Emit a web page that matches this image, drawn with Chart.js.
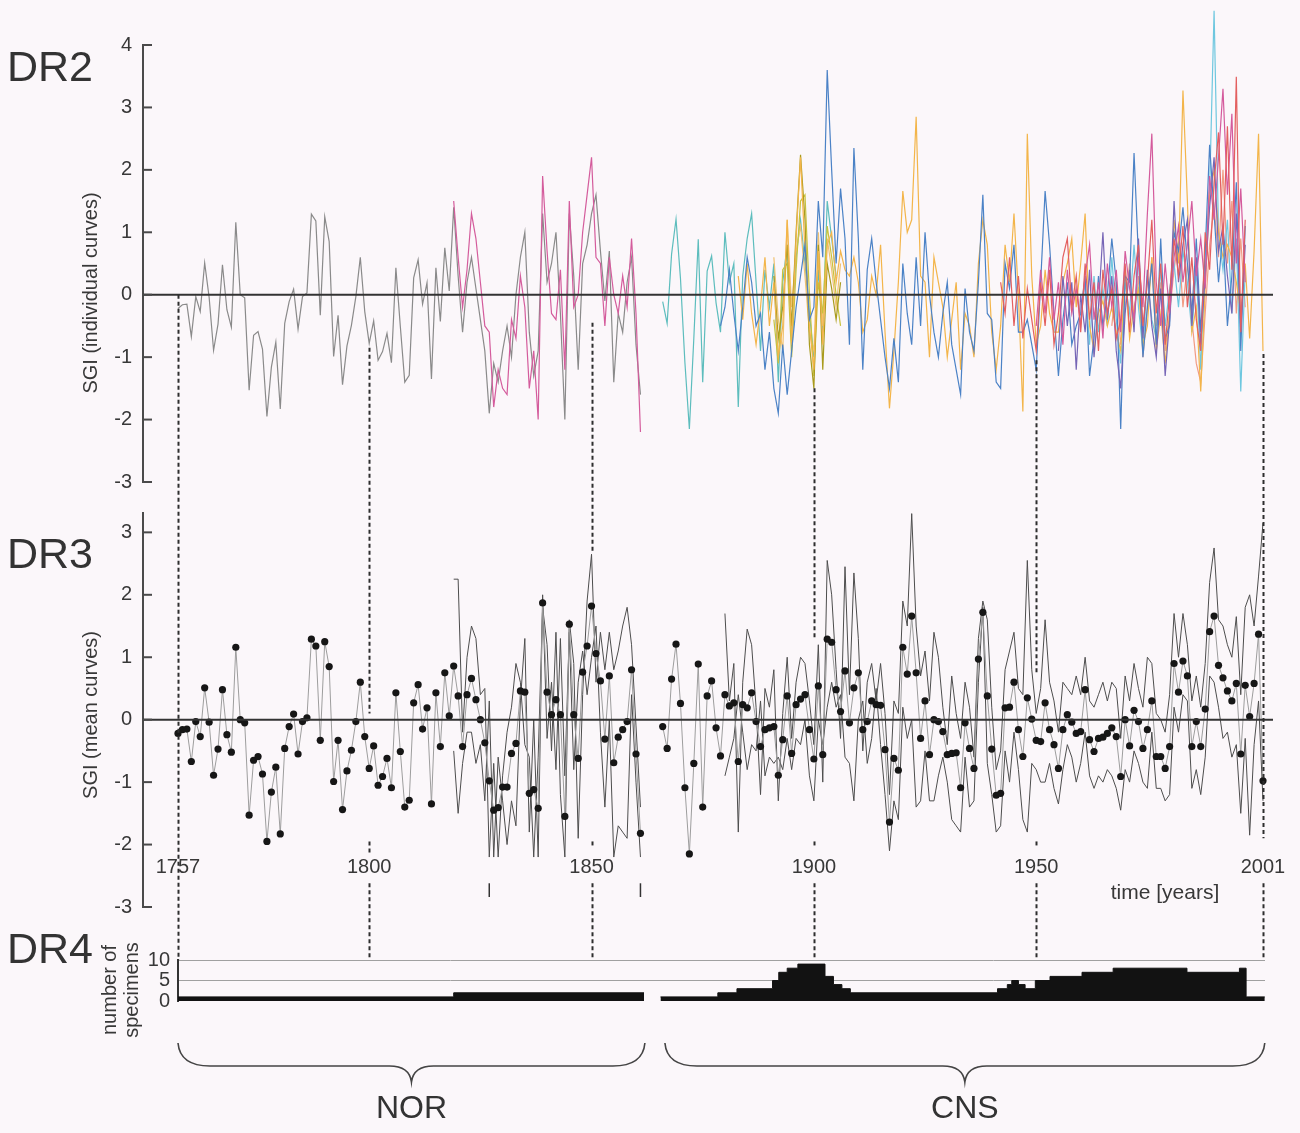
<!DOCTYPE html>
<html>
<head>
<meta charset="utf-8">
<title>DR2 / DR3 / DR4 – SGI curves</title>
<script src="https://cdn.jsdelivr.net/npm/chart.js@4.4.1/dist/chart.umd.min.js"></script>
<style>
html,body{margin:0;padding:0;background:#fbf7fa;}
#wrap{position:relative;width:1300px;height:1133px;overflow:hidden;background:#fbf7fa;}
#wrap canvas{position:absolute;left:0;}
</style>
</head>
<body>
<div id="wrap">
<canvas id="c2" width="1300" height="505" style="top:0px;width:1300px;height:505px"></canvas>
<canvas id="c3" width="1300" height="440" style="top:490px;width:1300px;height:440px"></canvas>
<canvas id="c4" width="1300" height="208" style="top:925px;width:1300px;height:208px"></canvas>
<canvas id="ov" width="1300" height="1133" style="top:0px;width:1300px;height:1133px"></canvas>
</div>
<script>
// ---------------- DATA ----------------
const dr2Ticks = [-3,-2,-1,0,1,2,3,4];
const dr3Ticks = [-3,-2,-1,0,1,2,3];
const dr4Ticks = [0,5,10];
const yearTicks = [1757,1800,1850,1900,1950,2001];

// DR2 individual curves (annual values, start year given)
const nor1Start = 1757;
const nor1 = [
-0.22,-0.16,-0.15,-0.67,-0.03,-0.27,0.51,-0.04,-0.89,-0.47,
0.48,-0.24,-0.52,1.16,0.0,-0.05,-1.53,-0.65,-0.59,-0.87,
-1.95,-1.16,-0.76,-1.83,-0.46,-0.11,0.09,-0.55,-0.03,0.03,
1.29,1.18,-0.33,1.25,0.85,-0.99,-0.33,-1.44,-0.82,-0.49,
-0.03,0.6,-0.27,-0.78,-0.42,-1.05,-0.91,-0.62,-1.09,0.43,
-0.51,-1.4,-1.29,0.27,0.56,-0.15,0.19,-1.35,0.43,-0.43,
0.75,0.06,
1.4,0.3,-0.6,0.2,0.6,0.1,-0.4,-0.9,-1.9,-1.1,
-1.4,-0.9,-0.5,-1.0,0.0,0.6,1.0,-0.6,-1.3,-0.9,
1.3,0.2,0.5,1.0,-0.3,-2.0,1.3,0.3,-1.2,0.5,
0.8,1.3,1.6,0.7,-0.1,0.7,-1.4,-0.3,-0.6,0.2,
0.6,-0.8,-1.6];
const nor2Start = 1819;
const nor2 = [
1.5,0.6,-0.2,0.4,1.3,0.9,0.2,-0.5,-0.6,-1.8,
-1.2,-1.5,-1.6,-0.4,-0.7,0.3,-0.2,-1.5,-0.9,-2.0,
1.9,0.7,-0.3,-0.4,0.4,-1.2,1.5,-0.2,0.0,1.0,
1.6,2.2,0.6,0.5,-0.5,0.6,0.0,-0.3,0.3,-0.2,
0.9,-0.3,-2.2];
const cnsTealStart = 1866;
const cnsTeal = [
-0.11,-0.46,0.65,1.21,0.26,-1.09,-2.15,-0.7,0.89,-1.4,
0.38,0.62,-0.13,-0.6,1.0,0.2,0.5,-1.8,0.3,0.9,
1.3,0.2,-0.9,0.4,-0.2,0.5,-1.4,0.2,0.8,-0.6,
0.6,1.2,0.5,-0.3,-1.0,0.4,-0.6,1.5,0.9,0.3];
const cnsBlueStart = 1879;
const cnsBlue = [
-0.5,-0.2,0.4,-0.3,-0.9,-0.2,0.6,0.2,-0.5,-0.3,
-1.2,-0.6,-1.5,-1.9,-0.8,-1.6,-0.9,-0.2,0.3,0.8,
-0.4,-0.2,1.5,0.6,3.6,2.0,0.5,1.7,0.9,-0.8,
2.35,0.9,-1.2,0.4,0.9,0.2,-0.4,-1.0,-1.5,-0.7,
-1.4,0.5,-0.3,-0.8,0.6,-0.5,1.0,0.0,-0.6,-1.0,
-0.3,0.2,-0.8,-1.2,-1.6,0.1,-0.6,-0.9,0.2,1.6,
-0.3,-0.4,-1.4,-1.5,0.5,0.1,0.8,-0.6,-0.6,-0.4,
-0.8,-1.2,0.2,1.66,0.8,-0.3,-1.3,-0.4,0.2,-0.8,
-0.5,-0.3,0.3,-1.3,-0.7,0.3,-0.5,0.0,0.9,0.2,
-2.15,0.3,0.2,2.27,0.6,-1.0,-0.2,0.5,-0.8,0.9,
-0.7,-0.5,1.0,0.7,1.4,0.5,-0.3,0.9,-0.6,0.7,
2.4,1.3,0.2,1.0,-0.5,0.3,1.8,-0.9,1.1];
const cnsOrangeStart = 1883;
const cnsOrange = [
0.3,-0.4,0.5,-0.3,-0.8,-0.2,0.6,-0.5,0.2,-1.0,
-0.5,1.2,-0.8,0.9,2.2,0.7,-0.5,-1.2,0.7,-0.8,
0.8,1.0,0.2,0.7,0.4,0.3,0.6,0.2,-0.6,-0.4,
0.3,0.0,0.8,-0.6,-1.82,-0.9,0.2,1.66,1.0,1.2,
2.85,0.3,0.2,-1.0,0.6,0.2,-0.2,-1.0,-0.4,0.2,
-1.2,-0.3,-0.5,-1.0,0.5,1.2,0.8,-0.6,-1.2,-0.5,
0.8,0.2,1.3,0.0,-1.87,2.58,0.3,-0.8,-0.5,0.4,
-0.3,-0.6,-0.6,0.2,0.5,0.9,-0.2,0.5,1.3,-0.5,
-0.9,-0.3,-0.1,-0.5,-0.2,-0.6,-0.9,0.4,-0.7,-0.2,
0.1,-0.8,-0.5,0.6,-0.9,-0.3,-1.1,-0.3,1.2,0.5,
3.27,1.5,-0.6,-0.2,-1.55,0.1,1.6,2.0,1.0,0.6,
0.8,0.6,0.2,-0.3,0.5,-0.7,0.7,2.58,-0.9];
const cnsOliveStart = 1891;
const cnsOlive = [0.3,-0.7,-0.2,0.8,-0.5,1.0,2.24,1.2,-0.8,-1.5,0.8,-1.2,0.5,0.1,-0.4,0.2];
const cnsYellowStart = 1891;
const cnsYellow = [-0.4,-1.1,0.4,0.5,-1.0,0.4,1.5,1.6,0.0,-1.3,0.2,-0.3,1.1,0.6,0.0,-0.5];
const cnsLightOrangeStart = 1891;
const cnsLightOrange = [0.6,-0.4,-0.9,1.2,-0.2,0.7,1.1,0.3,-0.6,-0.9,1.0,-0.5,0.9,0.4,-0.2,0.5];
const cnsRedStart = 1942;
const cnsRed = [
0.2,-0.3,0.6,-0.5,0.3,-0.7,0.1,-0.4,-0.9,0.2,
-0.5,0.4,-0.8,-0.3,0.6,0.9,-0.2,0.3,-0.6,0.5,
-0.4,0.2,-0.9,0.4,-0.3,0.1,-0.7,-0.4,0.5,-0.6,
0.3,0.8,-0.5,0.2,1.2,-0.3,0.5,-0.8,0.0,0.9,
0.3,1.1,-0.2,0.6,-0.4,-0.9,1.0,0.4,1.8,2.6,
0.8,2.7,0.4,3.49,-0.6,1.2];
const cnsMagentaStart = 1950;
const cnsMagenta = [
-0.5,0.4,-0.3,0.6,-0.4,0.2,-0.8,0.4,-0.3,0.1,
-0.5,0.3,0.8,-0.4,0.2,-0.7,0.5,-0.2,0.4,-0.6,
0.7,0.1,-0.4,0.6,-0.2,1.3,2.58,0.2,-0.5,0.5,
-0.3,0.6,1.1,0.2,0.8,1.5,0.3,0.9,0.1,1.9,
1.2,2.2,3.3,1.6,2.9,0.5,1.7,0.2];
const cnsPurpleStart = 1955;
const cnsPurple = [
-0.9,0.3,-0.5,0.2,-1.2,0.0,-0.6,0.4,-1.0,-0.2,
1.0,-0.4,0.3,-0.9,-1.5,-0.3,0.4,-0.6,0.9,-0.7,
0.4,-0.5,-1.0,0.1,-1.3,-0.4,1.5,0.2,0.8,1.2,
-0.5,0.6,-0.8,0.3,1.4,2.2,0.7,1.1,0.3,-0.3,
1.3,-0.6,0.8];
const cnsCyanStart = 1960;
const cnsCyan = [
-0.4,0.2,-0.8,0.3,-0.6,0.1,-0.5,0.6,-0.4,-1.1,
0.2,-0.3,0.8,-0.2,-0.9,0.3,-0.4,-0.7,0.4,-0.5,
0.1,0.5,-0.2,0.7,0.2,-0.6,0.4,-1.2,0.6,1.7,
4.55,1.0,0.4,1.2,-0.3,0.9,-1.55,0.4];
const cnsSalmonStart = 1967;
const cnsSalmon = [
-0.5,0.2,-0.8,-0.2,0.5,-0.4,0.3,-1.0,-0.2,0.6,
-0.5,0.2,-0.9,-0.3,0.4,0.9,-0.2,0.5,-0.4,-1.1,
-1.4,-0.3,0.8,1.4,0.6,2.0,0.5,1.5,-0.3,0.9,
-0.2];

// DR3 mean curve (dots), 1757-2001, gap 1862-1865
const meanStart = 1757;
const meanSGI = [
-0.22,-0.16,-0.15,-0.67,-0.03,-0.27,0.51,-0.04,-0.89,-0.47,
0.48,-0.24,-0.52,1.16,0.0,-0.05,-1.53,-0.65,-0.59,-0.87,
-1.95,-1.16,-0.76,-1.83,-0.46,-0.11,0.09,-0.55,-0.03,0.03,
1.29,1.18,-0.33,1.25,0.85,-0.99,-0.33,-1.44,-0.82,-0.49,
-0.03,0.6,-0.27,-0.78,-0.42,-1.05,-0.91,-0.62,-1.09,0.43,
-0.51,-1.4,-1.29,0.27,0.56,-0.15,0.19,-1.35,0.43,-0.43,
0.75,0.06,
0.86,0.38,-0.43,0.4,0.66,0.32,0.0,-0.37,-0.98,-1.45,
-1.41,-1.08,-1.08,-0.54,-0.38,0.46,0.44,-1.18,-1.12,-1.42,
1.87,0.44,0.08,0.32,0.08,-1.55,1.53,0.08,-0.62,0.76,
1.18,1.82,1.06,0.62,-0.31,0.7,-0.69,-0.28,-0.16,-0.03,
0.8,-0.55,-1.82,
null,null,null,null,
-0.11,-0.46,0.65,1.21,0.26,-1.09,-2.15,-0.7,0.89,-1.4,
0.38,0.62,-0.13,-0.58,0.4,0.22,0.27,-0.67,0.24,0.19,
0.43,-0.03,-0.43,-0.16,-0.13,-0.11,-0.89,-0.32,0.38,-0.54,
0.24,0.33,0.4,-0.16,-0.63,0.54,-0.56,1.29,1.24,0.48,
0.13,0.78,-0.05,0.51,
0.75,-0.16,-0.03,0.3,0.24,0.23,-0.48,-1.64,-0.62,-0.81,
1.16,0.73,1.66,0.75,-0.3,0.3,-0.56,0.0,-0.03,-0.19,
-0.56,-0.54,-0.53,-1.09,-0.05,-0.46,-0.78,0.97,1.72,0.38,
-0.47,-1.21,-1.18,0.19,0.2,0.6,-0.16,-0.59,0.35,0.01,
-0.33,-0.35,0.27,-0.16,-0.4,-0.78,-0.16,0.08,-0.04,-0.22,
-0.19,0.48,-0.32,-0.51,-0.3,-0.28,-0.22,-0.13,-0.27,-0.91,
0.0,-0.42,0.15,-0.03,-0.46,-0.16,0.3,-0.59,-0.59,-0.78,
-0.43,0.9,0.44,0.94,0.7,-0.43,-0.03,-0.43,0.17,1.41,
1.66,0.87,0.67,0.46,0.3,0.58,-0.55,0.55,0.05,0.58,
1.37,-0.98];

// DR3 two thin mean curves, 1819-2001
const thinStart = 1819;
const thinUpper = [
2.25,2.25,-0.2,1.0,1.5,1.3,0.4,0.5,-2.2,-0.7,
-2.2,-0.9,-0.2,0.2,0.9,0.6,-0.4,-0.6,-2.2,-0.6,
1.8,1.2,-0.5,1.4,-1.2,-2.2,1.6,0.9,-1.9,0.4,
1.9,2.65,0.6,1.4,0.8,1.4,0.8,1.1,1.5,1.8,
1.2,-0.1,-1.4,
null,null,null,null,null,null,null,null,null,null,null,null,null,null,null,null,null,null,
1.7,0.3,0.9,-1.8,0.6,1.45,1.2,0.2,-1.2,0.5,
0.2,0.8,-1.3,0.1,1.0,-0.3,0.6,1.0,0.9,0.3,
-0.4,1.2,-1.0,2.55,2.0,0.8,-0.3,2.45,0.4,2.35,
1.3,-0.5,0.6,0.9,0.3,0.9,0.1,-1.2,0.3,0.1,
1.9,1.5,3.3,1.5,0.7,1.1,0.3,1.4,1.0,0.2,
-0.4,0.7,0.1,-0.3,0.6,0.2,-0.6,1.3,1.9,1.6,
0.2,-0.8,-0.5,0.8,1.1,1.4,0.5,0.4,2.55,0.8,
0.1,0.5,1.6,0.6,0.3,-0.2,0.6,0.5,0.4,0.7,
0.4,1.0,0.3,0.2,0.4,0.6,0.3,0.6,0.5,-0.3,
0.7,0.3,0.9,0.5,0.2,1.0,0.9,0.1,0.0,-0.2,
0.4,1.7,1.0,1.7,1.2,0.3,0.7,0.2,0.9,2.2,
2.75,1.6,1.5,1.2,1.0,1.65,0.4,1.8,2.0,1.5,
2.3,3.15];
const thinLower = [
-0.5,-1.5,-0.7,-0.2,-0.2,-0.7,-0.4,-1.3,0.3,-2.2,
-0.6,-1.3,-2.0,-1.3,-1.7,0.3,1.3,-1.8,0.0,-2.2,
2.0,-0.3,0.6,-0.8,1.3,-0.9,1.4,-0.8,0.6,1.1,
0.4,1.0,1.5,-0.2,-1.4,0.0,-2.2,-1.7,-1.8,-1.9,
0.4,-1.0,-2.2,
null,null,null,null,null,null,null,null,null,null,null,null,null,null,null,null,null,null,
-0.9,-0.6,-0.3,0.4,-0.2,-0.8,-0.4,-0.5,0.3,-0.9,
-0.6,-0.7,-0.6,-0.8,-0.3,-0.8,-0.3,-0.4,0.0,-0.9,
-1.3,0.0,-0.4,0.2,0.6,0.2,0.4,-0.6,-0.7,-1.3,
0.0,0.3,-0.7,-0.3,0.5,-0.4,-1.2,-2.1,-1.3,-1.6,
0.2,-0.3,0.0,-1.4,-1.3,-0.5,-1.3,-1.3,-0.9,-0.6,
-1.0,-1.6,-1.7,-1.8,-0.6,-1.4,-1.3,0.6,1.8,-0.7,
-1.2,-1.8,-1.7,-0.5,-1.0,-0.2,-0.8,-1.6,-1.8,-0.7,
-0.8,-1.0,-1.0,-0.7,-1.1,-1.35,-0.8,-0.4,-0.6,-1.0,
-0.7,-0.2,-0.9,-1.1,-0.9,-1.0,-0.8,-0.9,-1.1,-1.45,
-0.8,-1.0,-0.5,-0.7,-1.0,-1.1,-0.2,-1.1,-1.1,-1.3,
-1.2,0.2,-0.2,0.4,0.3,-1.1,-0.8,-1.2,-0.6,0.7,
0.6,0.2,-0.3,-0.2,-0.6,-0.4,-1.5,-0.3,-1.85,-0.4,
0.3,-1.3];

// DR4 number of specimens (step change points)
const dr4Years  = [1757,1819,1861.8,1863,1865.5,1878.4,1882.7,1890.7,1892.1,1894,1896.4,1902.5,1904.4,1906.3,1908.2,1941.3,1943.5,1944.5,1946,1947.5,1949.8,1953.1,1960.3,1967.3,1983.9,1995.7,1997.2,2001.4];
const dr4Counts = [1,2,2,null,1,2,3,5,7,8,9,6,4,3,2,3,4,5,4,3,5,6,7,8,7,8,1,1];

// ---------------- STYLE / LAYOUT ----------------
const FONT = '"Liberation Sans", Arial, Helvetica, sans-serif';
const TEXT = '#383838';
const X_MIN = 1749.13, X_MAX = 2003.25;
const DR4_X_MIN = 1757, DR4_X_MAX = 2001.45;
const TOP = {2:0, 3:490, 4:925};

const dr2Curves = [
  {start:cnsRedStart, values:cnsRed, color:'#e35f5f'},
  {start:cnsMagentaStart, values:cnsMagenta, color:'#d45a9c'},
  {start:cnsPurpleStart, values:cnsPurple, color:'#7665b6'},
  {start:cnsBlueStart, values:cnsBlue, color:'#4b82c6'},
  {start:cnsOrangeStart, values:cnsOrange, color:'#f3b54a'},
  {start:cnsCyanStart, values:cnsCyan, color:'#6ec7df'},
  {start:cnsSalmonStart, values:cnsSalmon, color:'#f19b83'},
  {start:cnsOliveStart, values:cnsOlive, color:'#a99b1d'},
  {start:cnsYellowStart, values:cnsYellow, color:'#c8c23c'},
  {start:cnsLightOrangeStart, values:cnsLightOrange, color:'#f0c271'},
  {start:cnsTealStart, values:cnsTeal, color:'#5dbdbd'},
  {start:nor2Start, values:nor2, color:'#d45c9c'},
  {start:nor1Start, values:nor1, color:'#8a8a8a'}
];

function pts(start, vals){ return vals.map((v,i)=>({x:start+i, y:v})); }

function yAxis(min, max, tickVals){
  return {
    min, max,
    afterFit(s){ s.width = 40; },
    afterBuildTicks(s){ s.ticks = tickVals.map(v=>({value:v})); },
    grid:{display:false, drawTicks:false},
    border:{display:true, color:'#4a4a4a', width:2},
    ticks:{padding:11, color:TEXT, font:{size:20, family:FONT}, autoSkip:false}
  };
}
const common = {responsive:false, maintainAspectRatio:false, animation:false, devicePixelRatio:1, events:[],
  plugins:{legend:{display:false}, tooltip:{enabled:false}}};

// ---------------- DR2 ----------------
const ch2 = new Chart(document.getElementById('c2'), {
  type:'line',
  data:{datasets: dr2Curves.map(c=>({data:pts(c.start,c.values), borderColor:c.color, borderWidth:1.2,
    pointRadius:0, tension:0, fill:false, clip:false}))},
  options:Object.assign({}, common, {
    layout:{padding:{left:103, right:27, top:45, bottom:20}},
    scales:{
      x:{type:'linear', min:X_MIN, max:X_MAX, display:false},
      y:yAxis(-3, 4, dr2Ticks)
    }
  })
});

// ---------------- DR3 ----------------
const ch3 = new Chart(document.getElementById('c3'), {
  type:'line',
  data:{datasets:[
    {data:pts(meanStart, meanSGI), borderColor:'#9d9d9d', borderWidth:1, pointRadius:3.6,
     pointBackgroundColor:'#161616', pointBorderWidth:0, spanGaps:false, clip:false},
    {data:pts(thinStart, thinUpper), borderColor:'#4d4d4d', borderWidth:1, pointRadius:0, spanGaps:false},
    {data:pts(thinStart, thinLower), borderColor:'#4d4d4d', borderWidth:1, pointRadius:0, spanGaps:false}
  ]},
  options:Object.assign({}, common, {
    layout:{padding:{left:103, right:27, top:23, bottom:20}},
    scales:{
      x:{type:'linear', min:X_MIN, max:X_MAX, position:{y:-2.1},
         afterBuildTicks(s){ s.ticks = yearTicks.map(v=>({value:v})); },
         grid:{display:false, drawTicks:false}, border:{display:false},
         ticks:{padding:5, color:TEXT, font:{size:20, family:FONT}, autoSkip:false, maxRotation:0,
                callback:v=>String(v)}},
      y:yAxis(-3, 3.31, dr3Ticks)
    }
  })
});

// ---------------- DR4 ----------------
const ch4 = new Chart(document.getElementById('c4'), {
  type:'line',
  data:{datasets:[{data:dr4Years.map((x,i)=>({x, y:dr4Counts[i]})), stepped:'before', fill:'origin',
    backgroundColor:'#121212', borderColor:'#121212', borderWidth:1, pointRadius:0, spanGaps:false}]},
  options:Object.assign({}, common, {
    layout:{padding:{left:138, right:35, top:35, bottom:132}},
    scales:{
      x:{type:'linear', min:DR4_X_MIN, max:DR4_X_MAX, display:false},
      y:{min:0, max:10,
         afterFit(s){ s.width = 40; },
         afterBuildTicks(s){ s.ticks = dr4Ticks.map(v=>({value:v})); },
         grid:{drawTicks:false, lineWidth:1,
               color:c=>(c.tick && c.tick.value===0) ? 'rgba(0,0,0,0)' : '#a0a0a0'},
         border:{display:true, color:'#333', width:2},
         ticks:{padding:8, color:TEXT, font:{size:20, family:FONT}, autoSkip:false}}
    }
  })
});

// ---------------- OVERLAY (axes decorations, reference lines, labels) ----------------
const refLines = [
  {year:1757, segs:[[2,0,4,10]]},
  {year:1800, segs:[[2,-0.85,3,0.1],[3,-1.95,3,-2.15],[3,-2.62,4,10]]},
  {year:1850, segs:[[2,-0.45,3,2.7],[3,-1.95,3,-2.05],[3,-2.62,4,10]]},
  {year:1900, segs:[[2,-1.5,3,1.3],[3,-1.95,3,-2.05],[3,-2.62,4,10]]},
  {year:1950, segs:[[2,-1.05,3,0.75],[3,-1.95,3,-2.05],[3,-2.62,4,10]]},
  {year:2001, segs:[[2,-0.95,3,-1.9],[3,-2.62,4,10]]}
];
const periodMarks = [1827, 1861];
const groups = [{label:'NOR', from:1757, to:1862}, {label:'CNS', from:1866.5, to:2001.4}];

(function overlay(){
  const charts = {2:ch2, 3:ch3, 4:ch4};
  const ctx = document.getElementById('ov').getContext('2d');
  const Y = (p,v) => TOP[p] + charts[p].scales.y.getPixelForValue(v);
  const X = (p,yr) => charts[p].scales.x.getPixelForValue(yr);

  // zero lines
  ctx.strokeStyle = '#333'; ctx.lineWidth = 2;
  [2,3].forEach(p=>{
    const a = charts[p].chartArea;
    ctx.beginPath(); ctx.moveTo(a.left, Y(p,0)); ctx.lineTo(a.right, Y(p,0)); ctx.stroke();
  });
  // inward tick marks
  ctx.strokeStyle = '#4a4a4a'; ctx.lineWidth = 2;
  [2,3].forEach(p=>{
    const a = charts[p].chartArea;
    charts[p].scales.y.ticks.forEach(t=>{
      const y = Y(p,t.value);
      ctx.beginPath(); ctx.moveTo(a.left, y); ctx.lineTo(a.left+9, y); ctx.stroke();
    });
  });
  // dashed reference lines
  ctx.save();
  ctx.strokeStyle = '#2e2e2e'; ctx.lineWidth = 2; ctx.setLineDash([4,3]);
  refLines.forEach(r=>{
    const x = Math.round(X(2, r.year)) + 0.5;
    r.segs.forEach(s=>{
      ctx.beginPath(); ctx.moveTo(x, Y(s[0],s[1])); ctx.lineTo(x, Y(s[2],s[3])); ctx.stroke();
    });
  });
  ctx.restore();
  // small period marks in DR3
  ctx.strokeStyle = '#333'; ctx.lineWidth = 1.5;
  periodMarks.forEach(yr=>{
    const x = X(3, yr);
    ctx.beginPath(); ctx.moveTo(x, Y(3,-2.62)); ctx.lineTo(x, Y(3,-2.84)); ctx.stroke();
  });

  // panel labels
  ctx.fillStyle = '#333';
  ctx.font = '43px ' + FONT; ctx.textAlign = 'left'; ctx.textBaseline = 'alphabetic';
  ctx.fillText('DR2', 7, 81);
  ctx.fillText('DR3', 7, 568);
  ctx.fillText('DR4', 7, 963);

  // axis titles (rotated)
  function vText(txt, x, y, size){
    ctx.save(); ctx.translate(x, y); ctx.rotate(-Math.PI/2);
    ctx.font = size + 'px ' + FONT; ctx.fillStyle = TEXT; ctx.textAlign = 'center'; ctx.textBaseline = 'middle';
    ctx.fillText(txt, 0, 0); ctx.restore();
  }
  vText('SGI (individual curves)', 91, 293, 20);
  vText('SGI (mean curves)', 91, 715, 20);
  vText('number of', 110, 990, 20);
  vText('specimens', 132, 990, 20);

  // x axis title
  ctx.font = '21px ' + FONT; ctx.fillStyle = TEXT; ctx.textAlign = 'center'; ctx.textBaseline = 'middle';
  ctx.fillText('time [years]', 1165, 893);

  // braces + group names
  ctx.strokeStyle = '#444'; ctx.lineWidth = 1.6;
  groups.forEach(g=>{
    const x0 = X(4, g.from), x1 = X(4, g.to), xm = (x0+x1)/2;
    const yTop = 1043, yMid = 1066, yTip = 1082;
    ctx.beginPath();
    ctx.moveTo(x0, yTop);
    ctx.quadraticCurveTo(x0+2, yMid, x0+32, yMid);
    ctx.lineTo(xm-22, yMid);
    ctx.quadraticCurveTo(xm-2, yMid, xm, yTip);
    ctx.quadraticCurveTo(xm+2, yMid, xm+22, yMid);
    ctx.lineTo(x1-32, yMid);
    ctx.quadraticCurveTo(x1-2, yMid, x1, yTop);
    ctx.stroke();
    ctx.font = '32px ' + FONT; ctx.fillStyle = '#333'; ctx.textAlign = 'center'; ctx.textBaseline = 'middle';
    ctx.fillText(g.label, xm, 1109);
  });
})();
</script>
</body>
</html>
